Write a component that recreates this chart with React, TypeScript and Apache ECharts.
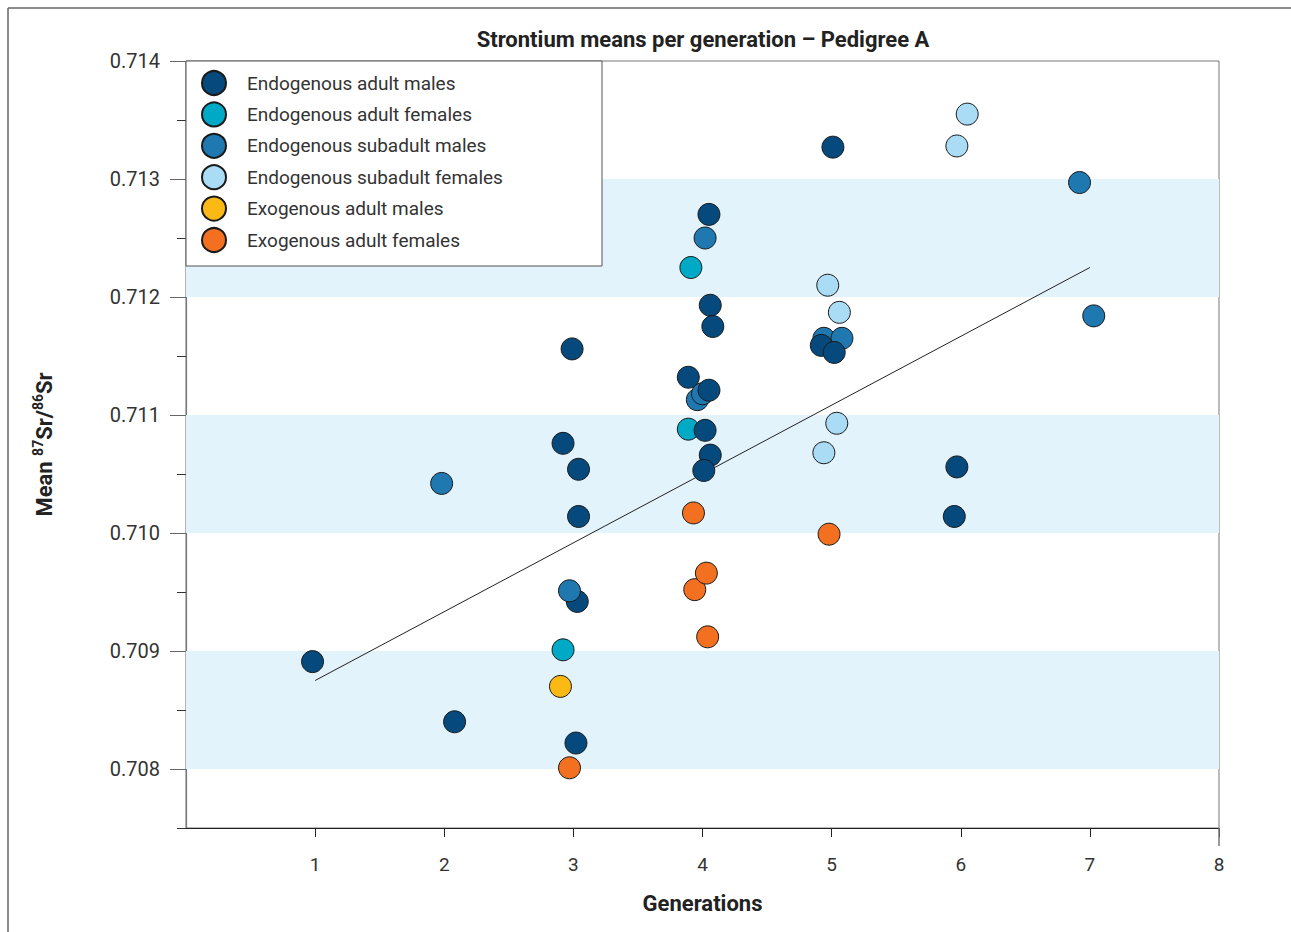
import React, { useEffect, useRef } from "react";
import * as echarts from "echarts";

const seriesNames = [
  "Endogenous adult males",
  "Endogenous adult females",
  "Endogenous subadult males",
  "Endogenous subadult females",
  "Exogenous adult males",
  "Exogenous adult females",
];
const seriesColors = ["#064a7d", "#00aac6", "#1f78b0", "#aadcf6", "#fbb915", "#f37021"];

const endoAdultMales = [
  [0.98, 0.70891], [2.08, 0.7084], [2.99, 0.71156], [2.92, 0.71076], [3.04, 0.71054],
  [3.04, 0.71014], [3.03, 0.70942], [3.02, 0.70822], [4.05, 0.7127], [4.06, 0.71193],
  [4.08, 0.71175], [3.89, 0.71132], [4.05, 0.71121], [4.02, 0.71087], [4.06, 0.71066],
  [4.01, 0.71053], [5.01, 0.71327], [4.92, 0.71159], [5.02, 0.71153], [5.97, 0.71056],
  [5.95, 0.71014],
];
const endoAdultFemales = [[3.91, 0.71225], [3.89, 0.71088], [2.92, 0.70901]];
const endoSubadultMales = [
  [1.98, 0.71042], [4.02, 0.7125], [3.96, 0.71113], [4.0, 0.71118], [4.94, 0.71165],
  [5.08, 0.71165], [6.92, 0.71297], [7.03, 0.71184],
];
const endoSubadultMalesFront = [[2.97, 0.70951]];
const endoSubadultFemales = [
  [6.05, 0.71355], [5.97, 0.71328], [4.97, 0.7121], [5.06, 0.71187], [5.04, 0.71093], [4.94, 0.71068],
];
const exoAdultMales = [[2.9, 0.7087]];
const exoAdultFemales = [
  [3.93, 0.71017], [3.94, 0.70952], [4.03, 0.70966], [4.04, 0.70912], [2.97, 0.70801], [4.98, 0.70999],
];
const fitLine = [[1, 0.70875], [7, 0.71225]];

const bands = [[0.712, 0.713], [0.71, 0.711], [0.708, 0.709]];
const yMajorTicks = [0.708, 0.709, 0.71, 0.711, 0.712, 0.713, 0.714];
const yMinorTicks = [0.7075, 0.7085, 0.7095, 0.7105, 0.7115, 0.7125, 0.7135];
const xTicks = [1, 2, 3, 4, 5, 6, 7, 8];

const FONT = "Roboto";

export default function App() {
  const ref = useRef<HTMLDivElement>(null);
  useEffect(() => {
    if (!ref.current) return;
    const chart = echarts.init(ref.current, null, { renderer: "svg" });
    const scatter = (name: string, data: number[][], color: string) => ({
      type: "scatter",
      name,
      data,
      symbol: "circle",
      symbolSize: 22,
      itemStyle: { color, borderColor: "#1a1a1a", borderWidth: 1, opacity: 1 },
      emphasis: { disabled: true },
      z: 3,
    });
    chart.setOption({
      animation: false,
      backgroundColor: "#ffffff",
      textStyle: { fontFamily: FONT },
      title: {
        text: "Strontium means per generation \u2013 Pedigree A",
        left: 698,
        top: 23,
        textAlign: "center",
        textStyle: { fontFamily: FONT, fontSize: 22, fontWeight: "bold", color: "#222" },
      },
      grid: {
        left: 186,
        top: 61,
        right: 72,
        bottom: 104,
        show: true,
        borderColor: "#777",
        borderWidth: 1,
        backgroundColor: "transparent",
      },
      legend: {
        orient: "vertical",
        left: 201,
        top: 70,
        padding: 0,
        itemWidth: 24,
        itemHeight: 24,
        itemGap: 5.4,
        icon: "circle",
        data: seriesNames,
        textStyle: { fontFamily: FONT, fontSize: 19, lineHeight: 24, color: "#333", padding: [0, 0, 0, 16] },
        z: 6,
      },
      graphic: [
        { type: "line", shape: { x1: 8, y1: 8, x2: 1291, y2: 8 }, style: { stroke: "#666", lineWidth: 1.5 }, z: 10 },
        { type: "line", shape: { x1: 8, y1: 8, x2: 8, y2: 932 }, style: { stroke: "#666", lineWidth: 1.5 }, z: 10 },
        { type: "line", shape: { x1: 1219, y1: 828, x2: 1219, y2: 846 }, style: { stroke: "#777", lineWidth: 1.5 }, z: 10 },
        {
          type: "rect",
          shape: { x: 186, y: 61, width: 416, height: 205 },
          style: { fill: "#ffffff", stroke: "#555", lineWidth: 1 },
          z: 5,
        },
      ],
      xAxis: {
        type: "value",
        min: 0,
        max: 8,
        name: "Generations",
        nameLocation: "middle",
        nameGap: 64,
        nameTextStyle: { fontFamily: FONT, fontSize: 22, fontWeight: "bold", color: "#222" },
        splitLine: { show: false },
        axisLine: { show: true, onZero: false, lineStyle: { color: "#222", width: 1.2 } },
        axisTick: { show: true, customValues: xTicks, length: 9, lineStyle: { color: "#222" } },
        axisLabel: {
          customValues: xTicks,
          margin: 27,
          fontFamily: FONT,
          fontSize: 19,
          color: "#333",
        },
      },
      yAxis: [
        {
          type: "value",
          min: 0.7075,
          max: 0.714,
          name: "{a|Mean }{s|87}{a|Sr/}{s|86}{a|Sr}",
          nameLocation: "middle",
          nameGap: 129,
          nameTextStyle: {
            rich: {
              a: { fontFamily: FONT, fontSize: 22, fontWeight: "bold", color: "#222", lineHeight: 26 },
              s: { fontFamily: FONT, fontSize: 14, fontWeight: "bold", color: "#222", lineHeight: 15, verticalAlign: "top" },
            },
          },
          splitLine: { show: false },
          axisLine: { show: true, onZero: false, lineStyle: { color: "#777", width: 1.2 } },
          axisTick: { show: true, customValues: yMajorTicks, length: 16, lineStyle: { color: "#666" } },
          axisLabel: {
            customValues: yMajorTicks,
            margin: 26,
            fontFamily: FONT,
            fontSize: 20,
            color: "#333",
            formatter: (v: number) => v.toFixed(3),
          },
        },
        {
          type: "value",
          min: 0.7075,
          max: 0.714,
          position: "left",
          splitLine: { show: false },
          axisLine: { show: false },
          axisTick: { show: true, customValues: yMinorTicks, length: 9, lineStyle: { color: "#333" } },
          axisLabel: { show: false },
        },
      ],
      series: [
        {
          type: "line",
          name: "fit",
          data: fitLine,
          symbol: "none",
          lineStyle: { color: "#222", width: 1 },
          silent: true,
          z: 2,
          markArea: {
            silent: true,
            itemStyle: { color: "#e2f3fb" },
            data: bands.map((b) => [{ yAxis: b[0] }, { yAxis: b[1] }]),
          },
        },
        scatter(seriesNames[2], endoSubadultMales, seriesColors[2]),
        scatter(seriesNames[3], endoSubadultFemales, seriesColors[3]),
        scatter(seriesNames[1], endoAdultFemales, seriesColors[1]),
        scatter(seriesNames[4], exoAdultMales, seriesColors[4]),
        scatter(seriesNames[5], exoAdultFemales, seriesColors[5]),
        scatter(seriesNames[0], endoAdultMales, seriesColors[0]),
        scatter(seriesNames[2], endoSubadultMalesFront, seriesColors[2]),
      ],
    });
    return () => chart.dispose();
  }, []);
  return (
    <div
      ref={ref}
      style={{ position: "absolute", left: 0, top: 0, width: 1291, height: 932 }}
    />
  );
}
